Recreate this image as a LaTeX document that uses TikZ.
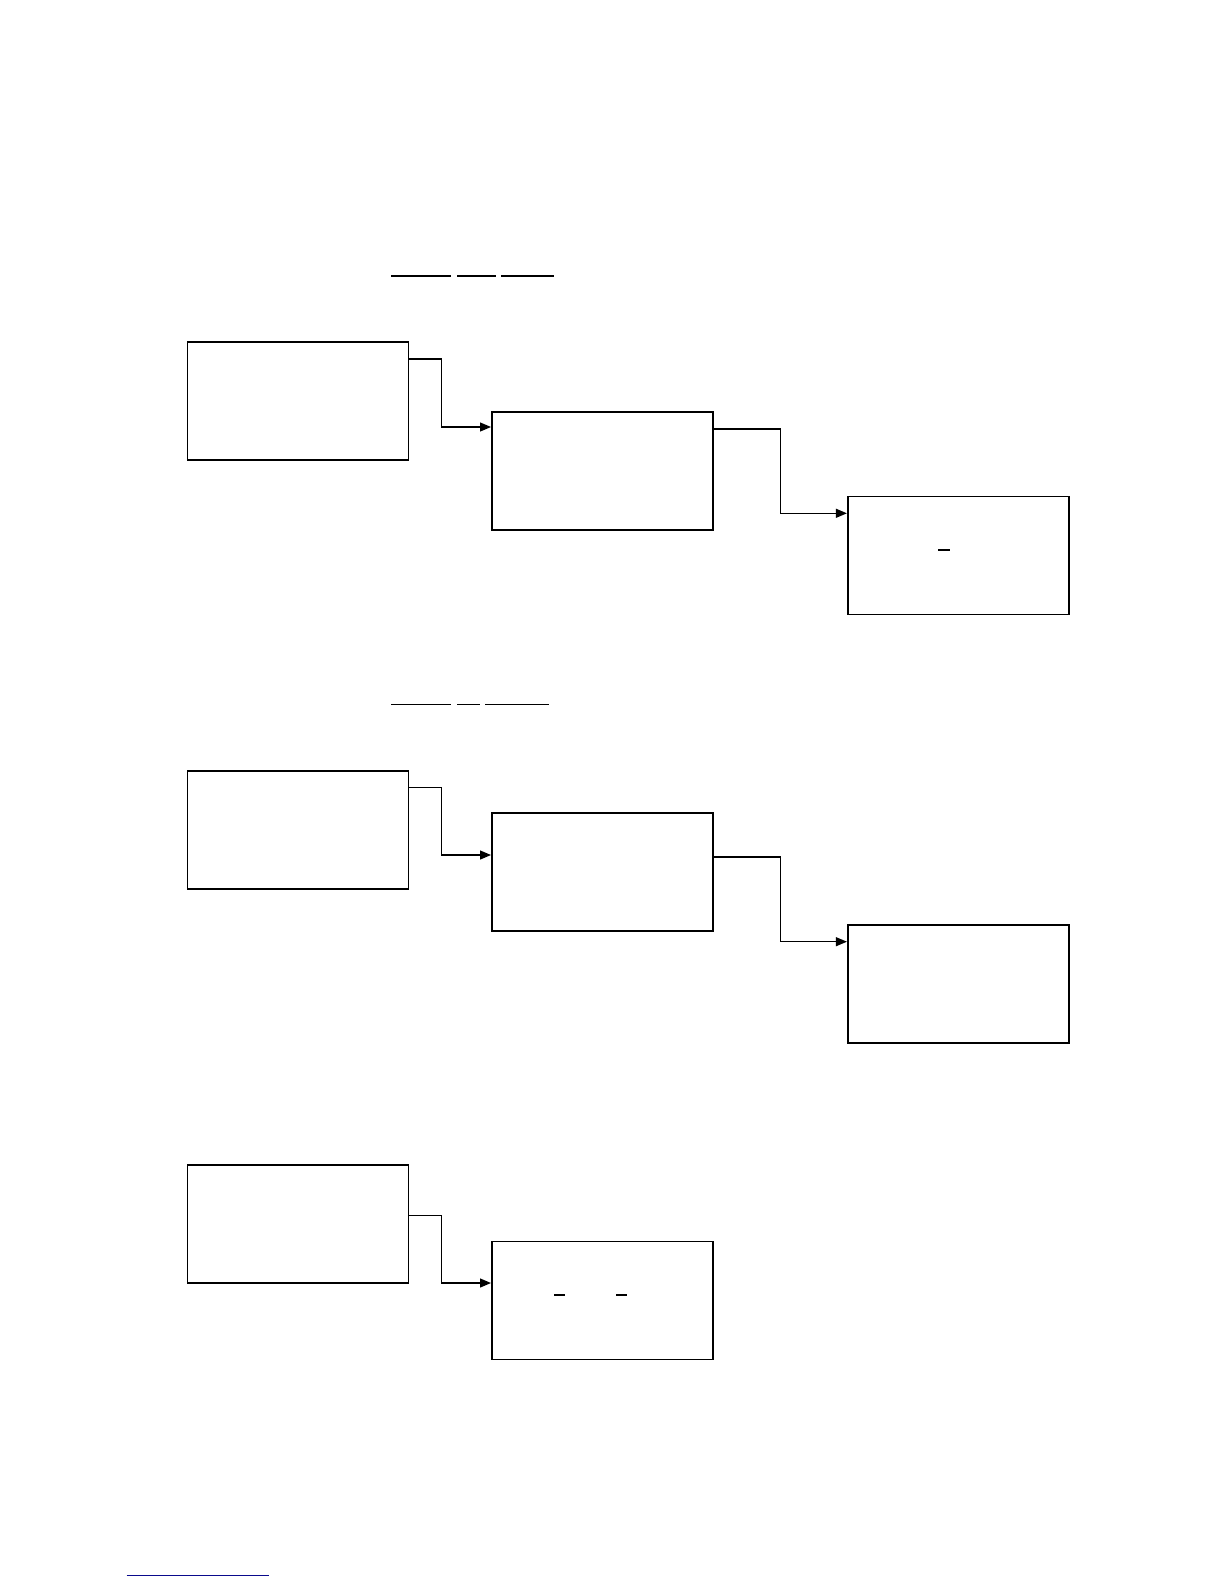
\documentclass[tikz,border=0pt]{standalone}
\usetikzlibrary{arrows.meta}
\definecolor{linknavy}{RGB}{10,10,140}
\begin{document}
\begin{tikzpicture}[x=0.5pt,y=-0.5pt,
  blockbox/.style={draw,line width=0.8pt,rectangle,inner sep=0pt,minimum width=110.5pt,minimum height=59pt},
  conn/.style={line width=0.6pt,-{Triangle[length=5.5pt,width=4.5pt]}},
  uline/.style={line width=0.8pt},
  dashmark/.style={line width=0.8pt}]
\useasboundingbox (0,0) rectangle (1224,1584);
% row 1
\node[blockbox] (b1) at (297.8,401.2) {};
\node[blockbox] (b2) at (602.3,471) {};
\node[blockbox] (b3) at (958.2,555.5) {};
% row 2
\node[blockbox] (b4) at (297.8,829.7) {};
\node[blockbox] (b5) at (602.3,871.8) {};
\node[blockbox] (b6) at (958.2,983.7) {};
% row 3
\node[blockbox] (b7) at (297.8,1224) {};
\node[blockbox] (b8) at (602.3,1300.5) {};
% connector bends
\coordinate (k1) at (441.3,359);
\coordinate (k2) at (441.3,427);
\coordinate (k3) at (780.3,429);
\coordinate (k4) at (780.3,513.3);
\coordinate (k5) at (441.3,787.7);
\coordinate (k6) at (441.3,855);
\coordinate (k7) at (780.3,857);
\coordinate (k8) at (780.3,941.7);
\coordinate (k9) at (441.3,1215.7);
\coordinate (k10) at (441.3,1283);
\draw[conn] (b1.east |- k1) -- (k1) -- (k2) -- (b2.west |- k2);
\draw[conn] (b2.east |- k3) -- (k3) -- (k4) -- (b3.west |- k4);
\draw[conn] (b4.east |- k5) -- (k5) -- (k6) -- (b5.west |- k6);
\draw[conn] (b5.east |- k7) -- (k7) -- (k8) -- (b6.west |- k8);
\draw[conn] (b7.east |- k9) -- (k9) -- (k10) -- (b8.west |- k10);
% underlines (row 1 heading)
\coordinate (u1a) at (391,276); \coordinate (u1b) at (450.7,276);
\coordinate (u2a) at (457,276); \coordinate (u2b) at (495.7,276);
\coordinate (u3a) at (501.3,276); \coordinate (u3b) at (553.7,276);
\draw[uline] (u1a) -- (u1b); \draw[uline] (u2a) -- (u2b); \draw[uline] (u3a) -- (u3b);
% underlines (row 2 heading)
\coordinate (v1a) at (391,704.3); \coordinate (v1b) at (450.7,704.3);
\coordinate (v2a) at (457,704.3); \coordinate (v2b) at (480,704.3);
\coordinate (v3a) at (485,704.3); \coordinate (v3b) at (549,704.3);
\draw[uline] (v1a) -- (v1b); \draw[uline] (v2a) -- (v2b); \draw[uline] (v3a) -- (v3b);
% dashes inside boxes
\coordinate (d1a) at (938.3,549.7); \coordinate (d1b) at (950,549.7);
\draw[dashmark] (d1a) -- (d1b);
\coordinate (d2a) at (554,1295); \coordinate (d2b) at (565,1295);
\coordinate (d3a) at (616,1295); \coordinate (d3b) at (627,1295);
\draw[dashmark] (d2a) -- (d2b); \draw[dashmark] (d3a) -- (d3b);
% footnote rule
\coordinate (f1) at (126.7,1575); \coordinate (f2) at (269.3,1575);
\draw[linknavy,line width=0.5pt] (f1) -- (f2);
\end{tikzpicture}
\end{document}
